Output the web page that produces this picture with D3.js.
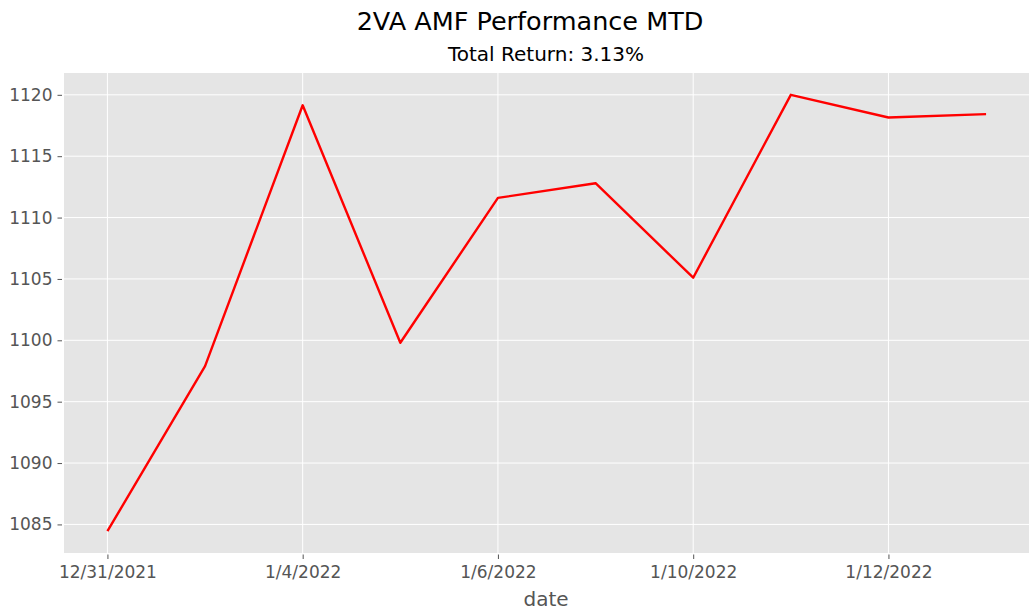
<!DOCTYPE html>
<html><head><meta charset="utf-8">
<script src="https://cdn.jsdelivr.net/npm/d3@7"></script>
<style>
body{margin:0;background:#fff;}
svg{display:block;}
text{font-family:"DejaVu Sans",sans-serif;}
</style></head>
<body><svg id="c" width="1029" height="614"></svg>
<script>
const dates = ["12/31/2021","1/3/2022","1/4/2022","1/5/2022","1/6/2022","1/7/2022","1/10/2022","1/11/2022","1/12/2022","1/13/2022"];
const values = [1084.45,1097.9,1119.15,1099.8,1111.6,1112.8,1105.1,1120.0,1118.15,1118.43];
const xTickIdx = [0,2,4,6,8];
const yTicks = [1085,1090,1095,1100,1105,1110,1115,1120];
const title = "2VA AMF Performance MTD";
const subtitle = "Total Return: 3.13%";
const xLabel = "date";

const svg = d3.select("#c");
const L=63.5, R=1030, T=73, B=553;
const x = d3.scaleLinear().domain([-0.45, dates.length-1+0.45]).range([L,R]);
const ext = d3.extent(values), pad=(ext[1]-ext[0])*0.05;
const y = d3.scaleLinear().domain([ext[0]-pad, ext[1]+pad]).range([B,T]);

svg.append("rect").attr("x",64).attr("y",T).attr("width",1029-64).attr("height",B-T).attr("fill","#E5E5E5");

// grid
svg.append("g").selectAll("line").data(yTicks).join("line")
  .attr("x1",64).attr("x2",1029).attr("y1",d=>y(d)).attr("y2",d=>y(d))
  .attr("stroke","#fff").attr("stroke-width",1);
svg.append("g").selectAll("line").data(xTickIdx).join("line")
  .attr("y1",T).attr("y2",B).attr("x1",d=>x(d)).attr("x2",d=>x(d))
  .attr("stroke","#fff").attr("stroke-width",1);

// axes
const xa = svg.append("g").attr("transform",`translate(0,${B})`)
  .call(d3.axisBottom(x).tickValues(xTickIdx).tickFormat(i=>dates[i]).tickSize(4.5).tickPadding(8));
const ya = svg.append("g").attr("transform",`translate(64,0)`)
  .call(d3.axisLeft(y).tickValues(yTicks).tickFormat(d3.format("d")).tickSize(4.5).tickPadding(6));
[xa,ya].forEach(a=>{
  a.select(".domain").remove();
  a.selectAll(".tick line").attr("stroke","#555").attr("stroke-width",1);
  a.selectAll(".tick text").attr("fill","#555").style("font-size","17px").style("font-family","DejaVu Sans");
});
ya.selectAll(".tick line").attr("transform","translate(-2,0)");
ya.selectAll(".tick text").attr("dx","-1");
xa.selectAll(".tick line").attr("transform","translate(0,1.5)");

// line
svg.append("path").datum(values)
  .attr("d", d3.line().x((d,i)=>x(i)).y(d=>y(d)))
  .attr("fill","none").attr("stroke","#FF0000").attr("stroke-width",2.4).attr("stroke-linejoin","round");

// texts
svg.append("text").attr("x",530).attr("y",30).attr("text-anchor","middle")
  .style("font-size","25.5px").attr("fill","#000").text(title);
svg.append("text").attr("x",546).attr("y",61).attr("text-anchor","middle")
  .style("font-size","20px").attr("fill","#000").text(subtitle);
svg.append("text").attr("x",546).attr("y",606).attr("text-anchor","middle")
  .style("font-size","20px").attr("fill","#555").text(xLabel);
</script></body></html>
